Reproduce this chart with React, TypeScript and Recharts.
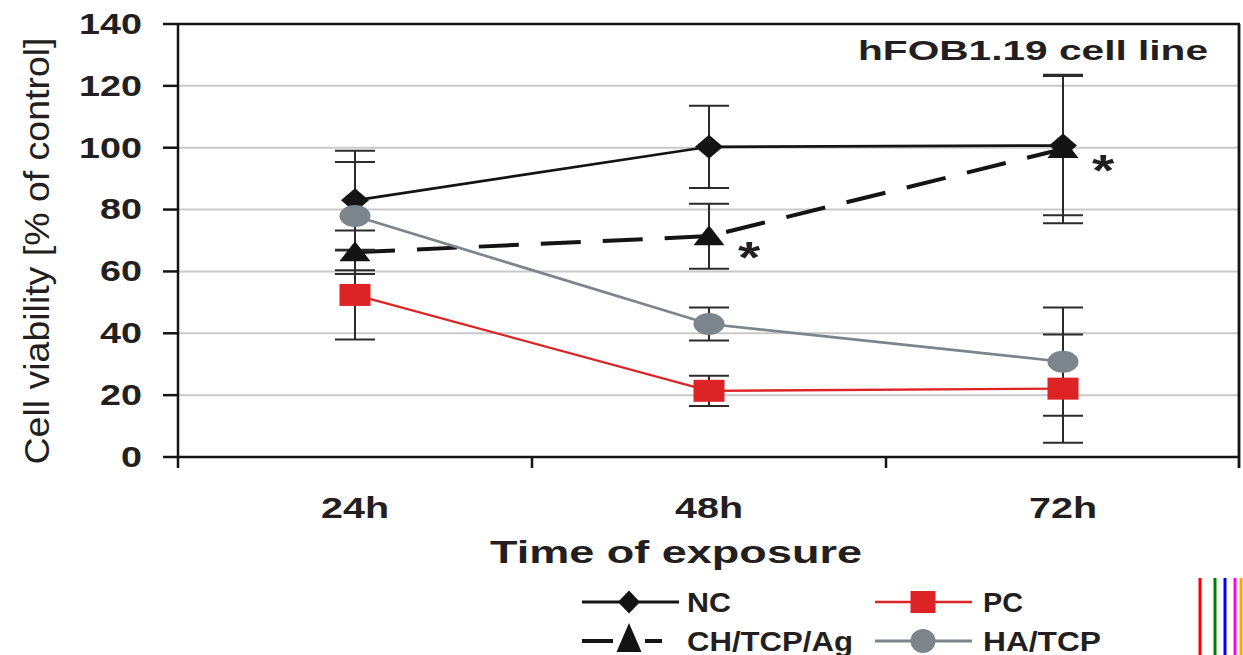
import React from 'react';
import { LineChart, Line, XAxis, YAxis, CartesianGrid, ErrorBar, LabelList, Legend, ReferenceLine } from 'recharts';

// ---- data ----
const times = ['24h', '48h', '72h'];
const ncValues = [83, 100.3, 100.7];
const ncErrors = [16, 13.3, 22.5];
const pcValues = [52.4, 21.4, 22.1];
const pcErrors = [14.4, 4.9, 17.5];
const chValues = [66.2, 71.4, 99.6];
const chErrors = [7, 10.5, 24];
const haValues = [77.9, 43, 30.8];
const haErrors = [17.5, 5.3, 17.5];
const chSignificance = ['', '*', '*'];
const yTicks = [0, 20, 40, 60, 80, 100, 120, 140];

const seriesNames = { nc: 'NC', pc: 'PC', ch: 'CH/TCP/Ag', ha: 'HA/TCP' };
const colors = { nc: '#141414', pc: '#dd2326', ch: '#141414', ha: '#7c858b' };

const data = times.map((t, i) => ({
  time: t,
  nc: ncValues[i], ncErr: ncErrors[i],
  pc: pcValues[i], pcErr: pcErrors[i],
  ch: chValues[i], chErr: chErrors[i], chStar: chSignificance[i],
  ha: haValues[i], haErr: haErrors[i],
}));

const FONT = '"Liberation Sans", Arial, Helvetica, sans-serif';
const TXT = '#231f20';
const SX = 1.3;
const XPAD = 177;
const PLOT_H = 433;

const Diamond = ({ cx, cy, w = 14, h = 12, fill }: any) => (
  <polygon points={`${cx},${cy - h} ${cx + w},${cy} ${cx},${cy + h} ${cx - w},${cy}`} fill={fill} />
);
const Square = ({ cx, cy, w = 15.5, h = 11, fill }: any) => (
  <rect x={cx - w} y={cy - h} width={2 * w} height={2 * h} fill={fill} />
);
const Ellipse = ({ cx, cy, rx = 15.5, ry = 11, fill }: any) => (
  <ellipse cx={cx} cy={cy} rx={rx} ry={ry} fill={fill} />
);
const Triangle = ({ cx, cy, w = 15.5, up = 11, down = 9, fill }: any) => (
  <polygon points={`${cx},${cy - up} ${cx + w},${cy + down} ${cx - w},${cy + down}`} fill={fill} />
);

const ncDot = (p: any) => (p.cx == null ? <g key={`nc${p.index}`} /> : <Diamond key={`nc${p.index}`} cx={p.cx} cy={p.cy} fill={colors.nc} />);
const pcDot = (p: any) => (p.cx == null ? <g key={`pc${p.index}`} /> : <Square key={`pc${p.index}`} cx={p.cx} cy={p.cy} fill={colors.pc} />);
const chDot = (p: any) => (p.cx == null ? <g key={`ch${p.index}`} /> : <Triangle key={`ch${p.index}`} cx={p.cx} cy={p.cy} fill={colors.ch} />);
const haDot = (p: any) => (p.cx == null ? <g key={`ha${p.index}`} /> : <Ellipse key={`ha${p.index}`} cx={p.cx} cy={p.cy} fill={colors.ha} />);

const YTick = (props: any) => {
  const { x, y, payload } = props;
  return (
    <text transform={`translate(${x},${y}) scale(${SX},1)`} textAnchor="end" dominantBaseline="central"
      fontFamily={FONT} fontWeight="bold" fontSize={29} fill={TXT}>
      {payload.value}
    </text>
  );
};

const XTick = (props: any) => {
  const { x, y, payload } = props;
  return (
    <g>
      <line x1={x - XPAD} x2={x - XPAD} y1={y} y2={y + 11} stroke="#141414" strokeWidth={2.5} />
      <text x={x} y={y + 61} textAnchor="middle" fontFamily={FONT} fontWeight="bold" fontSize={30} fill={TXT}
        textLength={68} lengthAdjust="spacingAndGlyphs">
        {payload.value}
      </text>
    </g>
  );
};

const XTitle = () => (
  <text x={676} y={563} textAnchor="middle" fontFamily={FONT} fontWeight="bold" fontSize={31} fill={TXT}
    textLength={372} lengthAdjust="spacingAndGlyphs">
    Time of exposure
  </text>
);

const YTitle = () => (
  <text transform={`translate(36,251) rotate(-90)`} textAnchor="middle" dominantBaseline="central"
    fontFamily={FONT} fontSize={35} fill={TXT} textLength={427} lengthAdjust="spacingAndGlyphs">
    Cell viability [% of control]
  </text>
);

const PlotTitle = (props: any) => {
  const vb = props.viewBox || {};
  const right = typeof vb.x === 'number' && typeof vb.width === 'number' ? vb.x + vb.width : 1240;
  const top = typeof vb.y === 'number' ? vb.y : 24;
  return (
    <g>
      <line x1={right - 1} x2={right - 1} y1={top} y2={top + PLOT_H + 11} stroke="#141414" strokeWidth={2.8} />
      <text x={1208} y={60} textAnchor="end" fontFamily={FONT} fontWeight="bold" fontSize={27} fill={TXT}
        textLength={350} lengthAdjust="spacingAndGlyphs">
        hFOB1.19 cell line
      </text>
    </g>
  );
};

const renderStar = (props: any) => {
  const { x, y, value, index } = props;
  if (!value) return <g key={`s${index}`} />;
  return (
    <text key={`s${index}`} transform={`translate(${x + 40},${y + 37}) scale(${SX},1)`} textAnchor="middle"
      fontFamily={FONT} fontWeight="bold" fontSize={44} fill={TXT}>
      {value}
    </text>
  );
};

const legendItems = [
  { key: 'nc', row: 0, col: 0 },
  { key: 'pc', row: 0, col: 1 },
  { key: 'ch', row: 1, col: 0 },
  { key: 'ha', row: 1, col: 1 },
];

const renderLegend = () => {
  const colX = [582, 875];
  const rowY = [24, 63];
  const textBase = [34, 73];
  return (
    <svg width={1243} height={77} style={{ display: 'block' }}>
      {/* diagnostic marks */}
      <line x1={1200} x2={1200} y1={0} y2={77} stroke="red" strokeWidth={3} />
      <line x1={1215} x2={1215} y1={0} y2={77} stroke="green" strokeWidth={3} />
      <line x1={1225} x2={1225} y1={0} y2={77} stroke="blue" strokeWidth={3} />
      <line x1={1235} x2={1235} y1={0} y2={77} stroke="magenta" strokeWidth={3} />
      <line x1={1241} x2={1241} y1={0} y2={77} stroke="orange" strokeWidth={3} />
      {legendItems.map((it) => {
        const x0 = colX[it.col];
        const y = rowY[it.row];
        const k = it.key as 'nc' | 'pc' | 'ch' | 'ha';
        const color = (colors as any)[k];
        const name = (seriesNames as any)[k];
        const mid = x0 + 48;
        let marker: any = null;
        if (k === 'nc') marker = <Diamond cx={mid - 1} cy={y} w={11} h={11.5} fill={color} />;
        if (k === 'pc') marker = <Square cx={mid} cy={y} w={12.5} h={11} fill={color} />;
        if (k === 'ch') marker = <Triangle cx={mid - 1} cy={y} w={12.5} up={18} down={11} fill={color} />;
        if (k === 'ha') marker = <Ellipse cx={mid} cy={y} rx={12.5} ry={12} fill={color} />;
        const lineEnd = k === 'ch' ? x0 + 80 : x0 + 97;
        return (
          <g key={k}>
            <line x1={x0} x2={lineEnd} y1={y} y2={y} stroke={color}
              strokeWidth={k === 'ch' ? 4 : k === 'pc' ? 2.5 : 3}
              strokeDasharray={k === 'ch' ? '31 32' : undefined} />
            {marker}
            <text x={x0 + (it.col === 0 ? 105 : 108)} y={textBase[it.row]} fontFamily={FONT} fontWeight="bold"
              fontSize={27} fill={TXT}
              textLength={k === 'nc' ? 44 : k === 'pc' ? 40 : k === 'ch' ? 166 : 118}
              lengthAdjust="spacingAndGlyphs">
              {name}
            </text>
          </g>
        );
      })}
    </svg>
  );
};

export default function App() {
  return (
    <div style={{ position: 'absolute', left: 0, top: 0, width: 1243, height: 655, background: '#fff', overflow: 'hidden' }}>
      <LineChart width={1243} height={655} data={data} margin={{ top: 24, right: 3, left: 0, bottom: 61 }}>
        <CartesianGrid vertical={false} stroke="#c9c9c9" strokeWidth={2} />
        <XAxis dataKey="time" height={60} tickSize={0} tickMargin={0} tickLine={false}
          padding={{ left: XPAD, right: XPAD }} axisLine={{ stroke: '#141414', strokeWidth: 2.5 }}
          tick={XTick} interval={0} label={XTitle} />
        <YAxis domain={[0, 140]} ticks={yTicks} width={178} tickSize={15} tickMargin={21}
          axisLine={{ stroke: '#141414', strokeWidth: 2.5 }} tickLine={{ stroke: '#141414', strokeWidth: 2.5 }}
          tick={YTick} interval={0} label={YTitle} />
        <ReferenceLine y={140} stroke="#141414" strokeWidth={2.5} label={PlotTitle} />
        <Legend layout="vertical" align="center" verticalAlign="bottom"
          wrapperStyle={{ left: 0, top: 578, width: 1243, height: 77 }} content={renderLegend} />
        <Line dataKey="nc" name={seriesNames.nc} stroke={colors.nc} strokeWidth={2.7} dot={ncDot}
          activeDot={false} isAnimationActive={false}>
          <ErrorBar dataKey="ncErr" width={20} stroke="#2b2b2b" strokeWidth={2} direction="y" />
        </Line>
        <Line dataKey="ch" name={seriesNames.ch} stroke={colors.ch} strokeWidth={4} strokeDasharray="40 22"
          dot={chDot} activeDot={false} isAnimationActive={false}>
          <ErrorBar dataKey="chErr" width={20} stroke="#2b2b2b" strokeWidth={2} direction="y" />
          <LabelList dataKey="chStar" content={renderStar} />
        </Line>
        <Line dataKey="ha" name={seriesNames.ha} stroke={colors.ha} strokeWidth={2.7} dot={haDot}
          activeDot={false} isAnimationActive={false}>
          <ErrorBar dataKey="haErr" width={20} stroke="#2b2b2b" strokeWidth={2} direction="y" />
        </Line>
        <Line dataKey="pc" name={seriesNames.pc} stroke={colors.pc} strokeWidth={2.3} dot={pcDot}
          activeDot={false} isAnimationActive={false}>
          <ErrorBar dataKey="pcErr" width={20} stroke="#2b2b2b" strokeWidth={2} direction="y" />
        </Line>
      </LineChart>
    </div>
  );
}
